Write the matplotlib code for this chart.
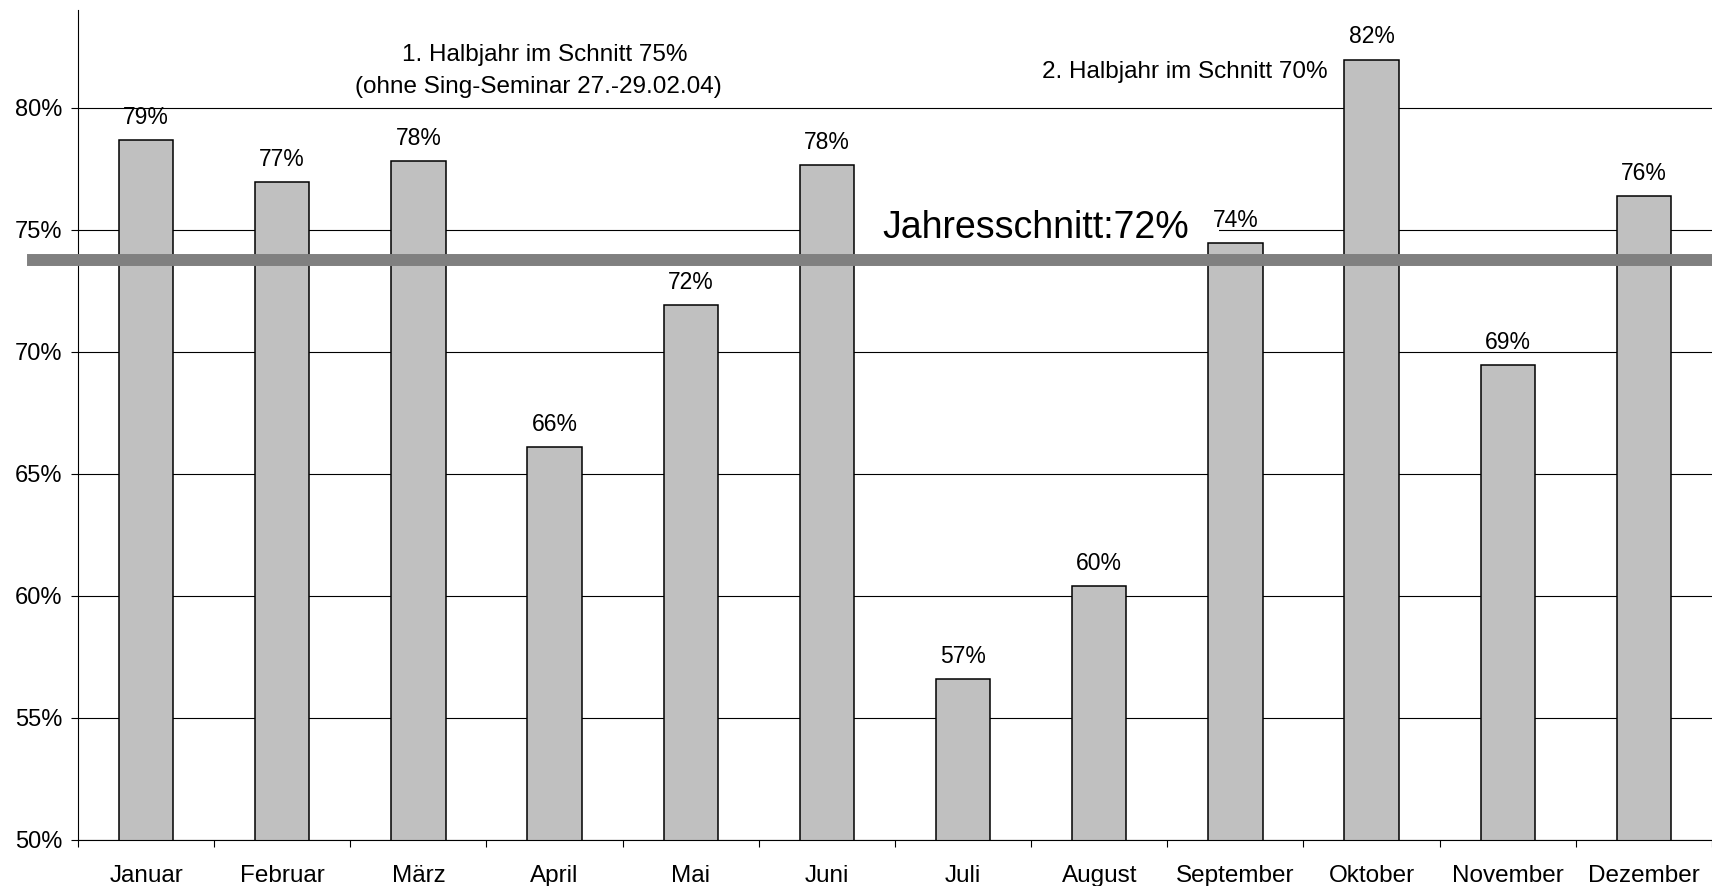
import matplotlib.pyplot as plt
import numpy as np

monate = ['Januar', 'Februar', 'März', 'April', 'Mai', 'Juni', 'Juli',
          'August', 'September', 'Oktober', 'November', 'Dezember']
werte = [78.66, 76.96, 77.82, 66.1, 71.92, 77.64, 56.61, 60.42, 74.47, 81.97, 69.46, 76.39]
beschriftung = ['79%', '77%', '78%', '66%', '72%', '78%', '57%', '60%', '74%', '82%', '69%', '76%']
jahres_linie = 73.75
y_ticks = [50, 55, 60, 65, 70, 75, 80]

plt.rcParams['font.family'] = ['Liberation Sans', 'DejaVu Sans']

fig = plt.figure(figsize=(17.12, 8.86), dpi=100)
ax = fig.add_axes([78 / 1712, 46 / 886, 1 - 78 / 1712, (840 - 10) / 886])

x = np.arange(len(monate))
ax.bar(x, werte, width=0.4, bottom=0, color='#c0c0c0', edgecolor='black',
       linewidth=1.1, zorder=2)

# Prozent über den Balken
for xi, w, t in zip(x, werte, beschriftung):
    ax.annotate(t, (xi, w), xytext=(0, 8), textcoords='offset points',
                ha='center', va='bottom', fontsize=16.5, zorder=4)

ax.set_xlim(-0.5, len(monate) - 0.5)
ax.set_ylim(50, 84)

ax.set_yticks(y_ticks)
ax.set_yticklabels([str(v) + '%' for v in y_ticks])
ax.tick_params(axis='y', labelsize=17, length=5, width=0.8, pad=6, direction='out')
ax.yaxis.grid(True, color='black', linewidth=0.8)
ax.set_axisbelow(True)

# Striche an den Grenzen, Namen in der Mitte
ax.set_xticks(np.arange(len(monate) + 1) - 0.5)
ax.set_xticklabels([])
ax.set_xticks(x, minor=True)
ax.set_xticklabels(monate, minor=True)
ax.tick_params(axis='x', which='major', length=5, width=0.8, direction='out')
ax.tick_params(axis='x', which='minor', length=0, labelsize=17.5, pad=18)

for s in ['top', 'right']:
    ax.spines[s].set_visible(False)
for s in ['left', 'bottom']:
    ax.spines[s].set_linewidth(0.8)

# Jahresschnitt-Linie
ax.axhline(jahres_linie, xmin=-0.0275, xmax=1, color='#808080', linewidth=8.6,
           clip_on=False, zorder=3)

ax.text(6.53, 75.09, 'Jahresschnitt:72%', fontsize=27, ha='center', va='center',
        zorder=1, bbox=dict(facecolor='white', edgecolor='none', pad=22))

ax.text(2.93, 82.17, '1. Halbjahr im Schnitt 75%', fontsize=17.5, ha='center', va='center')
ax.text(2.88, 80.86, '(ohne Sing-Seminar 27.-29.02.04)', fontsize=17.5, ha='center', va='center')
ax.text(7.63, 81.47, '2. Halbjahr im Schnitt 70%', fontsize=17.5, ha='center', va='center')

plt.savefig('out.png', dpi=100)
